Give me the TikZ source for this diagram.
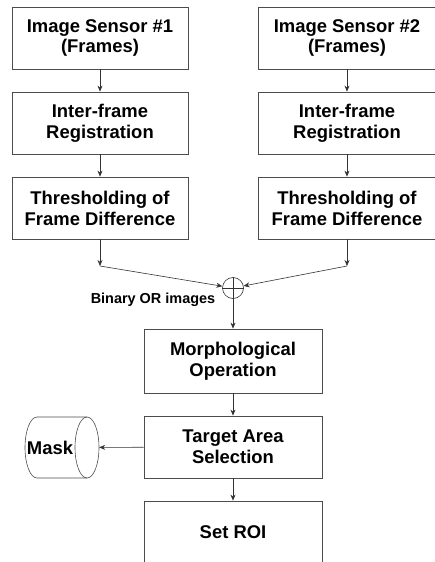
\documentclass[tikz,border=0pt]{standalone}
\usepackage{fontspec}
\setmainfont{Liberation Sans}
\usetikzlibrary{arrows.meta}
\tikzset{
  stepbox/.style={draw=black!70, line width=0.8bp, minimum width=176bp, minimum height=62bp,
    align=center, font=\fontsize{18.5}{21}\selectfont\bfseries},
  flow/.style={draw=black!80, line width=0.6bp, -{Stealth[length=6bp,width=5bp]}},
  drumline/.style={draw=black!70, line width=0.6bp},
}
\begin{document}
\begin{tikzpicture}[x=1bp,y=-1bp]
    \useasboundingbox (0,0) rectangle (435,562);
    \clip (0,0) rectangle (435,562);

    \node[stepbox] (sensA) at (100,38) {Image Sensor \#1\\(Frames)};
    \node[stepbox] (regA) at (100,123) {Inter-frame\\Registration};
    \node[stepbox] (thrA) at (100,208) {Thresholding of\\Frame Difference};

    \node[stepbox, minimum width=178bp] (sensB) at (347,38) {Image Sensor \#2\\(Frames)};
    \node[stepbox, minimum width=178bp] (regB) at (347,123) {Inter-frame\\Registration};
    \node[stepbox, minimum width=178bp] (thrB) at (347,208) {Thresholding of\\Frame Difference};

    \draw[flow] (sensA) -- (regA);
    \draw[flow] (regA) -- (thrA);
    \draw[flow] (sensB) -- (regB);
    \draw[flow] (regB) -- (thrB);

    \coordinate (joinA) at (100,266);
    \coordinate (joinB) at (347,266);
    \node[circle, draw=black!80, line width=0.6bp, minimum size=21bp, inner sep=0pt] (orop) at (233,288) {};
    \draw[line width=0.6bp, draw=black!80] (orop.north) -- (orop.south) (orop.west) -- (orop.east);
    \node[font=\fontsize{14.5}{16}\selectfont\bfseries] (orlab) at (153,300) {Binary OR images};

    \draw[flow] (thrA) -- (joinA);
    \draw[flow] (thrB) -- (joinB);
    \draw[flow] (joinA) -- (orop);
    \draw[flow] (joinB) -- (orop);

    \node[stepbox, minimum width=178bp, minimum height=64bp] (morph) at (233,361) {Morphological\\Operation};
    \node[stepbox, minimum width=178bp] (target) at (233,447) {Target Area\\Selection};
    \node[stepbox, minimum width=178bp, minimum height=62bp] (roi) at (233,532) {Set ROI};

    % mask store
    \node[minimum width=74bp, minimum height=61bp, inner sep=0pt] (mask) at (62,447.5) {};
    \draw[drumline] (87,447.5) ellipse [x radius=12, y radius=30.5];
    \draw[drumline] (87,417) -- (37,417) arc[start angle=-90, end angle=-270, x radius=12, y radius=30.5] -- (87,478);
    \node[font=\fontsize{18.5}{21}\selectfont\bfseries] (masktxt) at (50,447.5) {Mask};

    \draw[flow] (orop) -- (morph);
    \draw[flow] (morph) -- (target);
    \draw[flow] (target) -- (roi);
    \draw[flow] (target) -- (mask);
\end{tikzpicture}
\end{document}
